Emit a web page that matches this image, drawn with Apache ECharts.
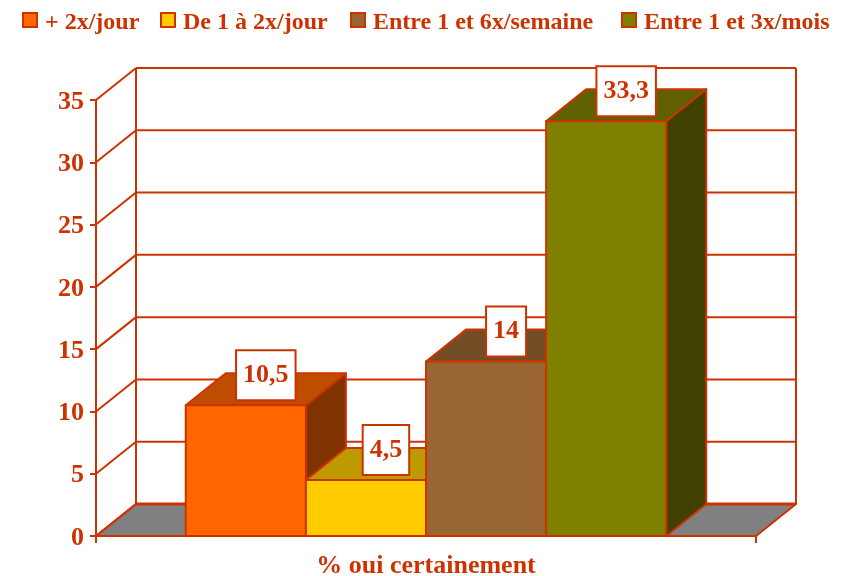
<!DOCTYPE html>
<html><head><meta charset="utf-8">
<style>html,body{margin:0;padding:0;background:#fff}#c{width:841px;height:576px}</style>
<script src="https://cdn.jsdelivr.net/npm/echarts@6/dist/echarts.min.js"></script>
</head><body><div id="c"></div>
<script>
const categories = ['% oui certainement'];
const seriesNames = ['+ 2x/jour', 'De 1 à 2x/jour', 'Entre 1 et 6x/semaine', 'Entre 1 et 3x/mois'];
const seriesValues = [10.5, 4.5, 14, 33.3];
const yTicks = [0, 5, 10, 15, 20, 25, 30, 35];
const frontColors = ['#FF6600', '#FFCC00', '#996633', '#808000'];
const topColors = ['#BF4D00', '#BF9900', '#734D26', '#606000'];
const sideColors = ['#803300', '#806600', '#4D3319', '#404000'];
const legendLefts = [22, 160, 350, 621];

const INK = '#CC3300';
const FONT = '"Liberation Serif", "Times New Roman", serif';
const DX = 40, DY = -32, BAR_SHARE = 0.182;
const chart = echarts.init(document.getElementById('c'));

function wallItem(params, api) {
  const t = api.value(1);
  const cs = params.coordSys;
  const p = api.coord([0, t]);
  const y = p[1], x0 = cs.x, x1 = cs.x + cs.width;
  const line = { stroke: INK, lineWidth: 2 };
  const kids = [];
  if (t === 0) {
    kids.push({ type: 'polygon', shape: { points: [[x0, y], [x0 + DX, y + DY], [x1 + DX, y + DY], [x1, y]] },
      style: { fill: '#808080', stroke: INK, lineWidth: 2, lineJoin: 'round' } });
    kids.push({ type: 'line', shape: { x1: x0 + DX, y1: y + DY, x2: x1 + DX, y2: y + DY }, style: { stroke: INK, lineWidth: 3 } });
  }
  if (t !== 0) {
    kids.push({ type: 'line', shape: { x1: x0 + DX, y1: y + DY, x2: x1 + DX, y2: y + DY }, style: line });
  }
  kids.push({ type: 'line', shape: { x1: x0, y1: y, x2: x0 + DX, y2: y + DY }, style: line });
  if (t === yTicks[yTicks.length - 1]) {
    const b = api.coord([0, 0])[1];
    kids.push({ type: 'line', shape: { x1: x0 + DX, y1: y + DY, x2: x0 + DX, y2: b + DY }, style: line });
    kids.push({ type: 'line', shape: { x1: x1 + DX, y1: y + DY, x2: x1 + DX, y2: b + DY }, style: line });
  }
  return { type: 'group', children: kids };
}

function barRenderer(i) {
  return function (params, api) {
    const v = api.value(1);
    const c = api.coord([0, v]);
    const base = api.coord([0, 0])[1];
    const w = api.size([1, 0])[0] * BAR_SHARE;
    const l = c[0] + (i - seriesValues.length / 2) * w, r = l + w, t = c[1];
    const stroke = { stroke: INK, lineWidth: 2, lineJoin: 'round' };
    return { type: 'group', children: [
      { type: 'polygon', shape: { points: [[r, t], [r + DX, t + DY], [r + DX, base + DY], [r, base]] },
        style: Object.assign({ fill: sideColors[i] }, stroke) },
      { type: 'polygon', shape: { points: [[l, t], [l + DX, t + DY], [r + DX, t + DY], [r, t]] },
        style: Object.assign({ fill: topColors[i] }, stroke) },
      { type: 'rect', shape: { x: l, y: t, width: w, height: base - t },
        style: Object.assign({ fill: frontColors[i] }, stroke) },
      { type: 'text', z2: 50, style: {
          x: (l + r) / 2 + DX / 2, y: t - 6,
          text: String(v).replace('.', ','),
          align: 'center', verticalAlign: 'bottom',
          font: 'bold 26px ' + FONT, fill: INK,
          backgroundColor: '#fff', borderColor: INK, borderWidth: 2,
          padding: [11, 6, 11, 6] } }
    ] };
  };
}

const textRich = (pad) => ({ color: INK, fontFamily: FONT, fontWeight: 'bold', padding: pad });

const legends = seriesNames.map((n, i) => ({
  data: [n], left: legendLefts[i], top: 11, padding: 0, itemWidth: 14, itemHeight: 14,
  icon: 'rect',
  itemStyle: { borderColor: INK, borderWidth: 2 },
  formatter: '{t|{name}}',
  textStyle: { color: INK, fontFamily: FONT, fontWeight: 'bold', fontSize: 24,
    rich: { t: Object.assign({ fontSize: 24 }, textRich([6, 0, 0, 3])) } },
  selectedMode: false
}));

chart.setOption({
  animation: false,
  backgroundColor: '#fff',
  legend: legends,
  grid: { left: 96, right: 85, top: 100, bottom: 40, outerBoundsMode: 'none' },
  xAxis: { type: 'category', data: categories, z: 6,
    axisLine: { lineStyle: { color: INK, width: 2 } },
    axisTick: { show: true, length: 7, lineStyle: { color: INK, width: 2 } },
    axisLabel: { color: INK, fontFamily: FONT, fontWeight: 'bold', fontSize: 26, margin: 17 } },
  yAxis: { type: 'value', min: 0, max: 35, interval: 5,
    axisLine: { show: true, lineStyle: { color: INK, width: 2 } },
    axisTick: { show: true, length: 6, lineStyle: { color: INK, width: 2 } },
    splitLine: { show: false },
    axisLabel: { color: INK, fontFamily: FONT, fontWeight: 'bold', fontSize: 26, margin: 6,
      formatter: '{v|{value}}',
      rich: { v: Object.assign({ fontSize: 26 }, textRich([4, 6, 0, 0])) } } },
  series: [
    { type: 'custom', name: 'walls', renderItem: wallItem, encode: { x: 0, y: 1 }, silent: true,
      data: yTicks.map(t => [0, t]) }
  ].concat(seriesNames.map((n, i) => ({
    type: 'custom', name: n, renderItem: barRenderer(i), encode: { x: 0, y: 1 },
    itemStyle: { color: frontColors[i], borderColor: INK, borderWidth: 2 },
    data: [[0, seriesValues[i]]]
  })))
});
</script></body></html>
